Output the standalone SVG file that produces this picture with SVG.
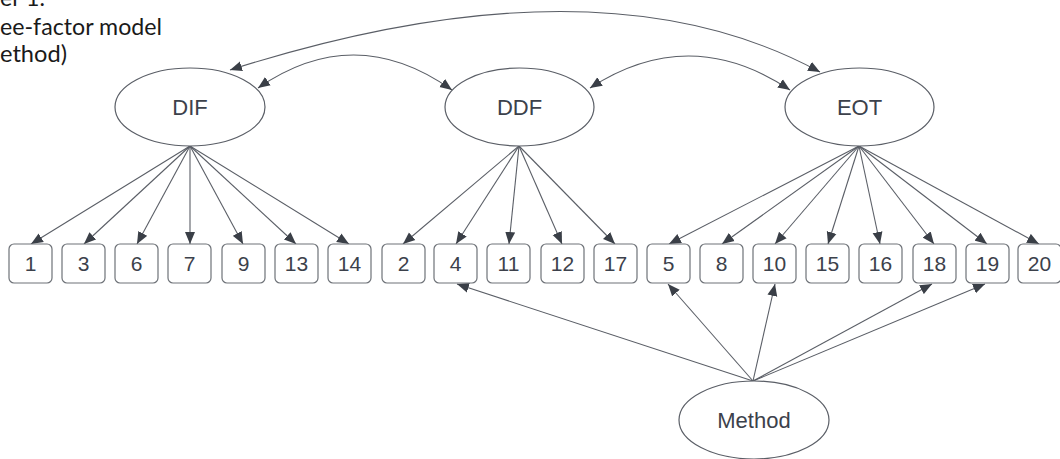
<svg xmlns="http://www.w3.org/2000/svg" width="1060" height="459" viewBox="0 0 1060 459">
<style>
.bg{fill:#ffffff}
.title{font-family:Lato,"Open Sans","Liberation Sans",sans-serif;font-size:24px;fill:#1a1a1a}
.ell{fill:#ffffff;stroke:#5a5e66;stroke-width:1.2}
.box{fill:#ffffff;stroke:#6e7278;stroke-width:1.2}
.lbl{font-family:"Liberation Sans",Arial,sans-serif;font-size:22px;fill:#3c414b;text-anchor:middle}
.num{font-family:"Liberation Sans",Arial,sans-serif;font-size:21px;fill:#3c414b;text-anchor:middle}
.c{fill:none;stroke:#5a5e66;stroke-width:1.1}
</style>
<defs>
<marker id="ah" markerUnits="userSpaceOnUse" markerWidth="13" markerHeight="11" refX="12" refY="5" orient="auto-start-reverse" viewBox="0 0 13 10">
<path d="M0,0 L12,5 L0,10 z" fill="#3a3f47"/>
</marker>
</defs>
<rect class="bg" x="0" y="0" width="1060" height="459"/>
<g id="title">
<text class="title" x="0" y="6" textLength="45" lengthAdjust="spacingAndGlyphs">er 1.</text>
<text class="title" x="0" y="35" textLength="162" lengthAdjust="spacingAndGlyphs">ee-factor model</text>
<text class="title" x="0" y="62" textLength="67" lengthAdjust="spacingAndGlyphs">ethod)</text>
</g>
<g id="connectors">
<path class="c" d="M258,88 Q355,21 452,90" marker-start="url(#ah)" marker-end="url(#ah)"/>
<path class="c" d="M590,88 Q690,23 790,90" marker-start="url(#ah)" marker-end="url(#ah)"/>
<path class="c" d="M230,70 Q600,-48 820,72" marker-start="url(#ah)" marker-end="url(#ah)"/>
<g marker-end="url(#ah)">
<line class="c" x1="190" y1="146" x2="31" y2="244"/>
<line class="c" x1="190" y1="146" x2="84" y2="244"/>
<line class="c" x1="190" y1="146" x2="137" y2="244"/>
<line class="c" x1="190" y1="146" x2="190" y2="244"/>
<line class="c" x1="190" y1="146" x2="243" y2="244"/>
<line class="c" x1="190" y1="146" x2="296" y2="244"/>
<line class="c" x1="190" y1="146" x2="349" y2="244"/>
<line class="c" x1="519" y1="146" x2="403" y2="244"/>
<line class="c" x1="519" y1="146" x2="456" y2="244"/>
<line class="c" x1="519" y1="146" x2="509" y2="244"/>
<line class="c" x1="519" y1="146" x2="562" y2="244"/>
<line class="c" x1="519" y1="146" x2="615" y2="244"/>
<line class="c" x1="859" y1="146" x2="669" y2="244"/>
<line class="c" x1="859" y1="146" x2="722" y2="244"/>
<line class="c" x1="859" y1="146" x2="775" y2="244"/>
<line class="c" x1="859" y1="146" x2="828" y2="244"/>
<line class="c" x1="859" y1="146" x2="880" y2="244"/>
<line class="c" x1="859" y1="146" x2="934" y2="244"/>
<line class="c" x1="859" y1="146" x2="987" y2="244"/>
<line class="c" x1="859" y1="146" x2="1039" y2="244"/>
<line class="c" x1="753" y1="381" x2="457" y2="284"/>
<line class="c" x1="753" y1="381" x2="668" y2="284"/>
<line class="c" x1="753" y1="381" x2="775" y2="284"/>
<line class="c" x1="753" y1="381" x2="932" y2="284"/>
<line class="c" x1="753" y1="381" x2="985" y2="284"/>
</g>
</g>
<g id="DIF"><ellipse class="ell" cx="190" cy="107" rx="75" ry="39"/><text class="lbl" x="190" y="115">DIF</text></g>
<g id="DDF"><ellipse class="ell" cx="519.5" cy="107" rx="74.5" ry="39"/><text class="lbl" x="519.5" y="115">DDF</text></g>
<g id="EOT"><ellipse class="ell" cx="859.5" cy="107" rx="74.5" ry="39"/><text class="lbl" x="859.5" y="115">EOT</text></g>
<g id="Method"><ellipse class="ell" cx="754" cy="420" rx="75" ry="39"/><text class="lbl" x="754" y="428">Method</text></g>
<g id="i1"><rect class="box" x="9" y="244" width="43" height="39" rx="5"/><text class="num" x="30.5" y="271">1</text></g>
<g id="i3"><rect class="box" x="62" y="244" width="43" height="39" rx="5"/><text class="num" x="83.5" y="271">3</text></g>
<g id="i6"><rect class="box" x="115" y="244" width="43" height="39" rx="5"/><text class="num" x="136.5" y="271">6</text></g>
<g id="i7"><rect class="box" x="168" y="244" width="43" height="39" rx="5"/><text class="num" x="189.5" y="271">7</text></g>
<g id="i9"><rect class="box" x="222" y="244" width="43" height="39" rx="5"/><text class="num" x="243.5" y="271">9</text></g>
<g id="i13"><rect class="box" x="275" y="244" width="43" height="39" rx="5"/><text class="num" x="296.5" y="271">13</text></g>
<g id="i14"><rect class="box" x="328" y="244" width="43" height="39" rx="5"/><text class="num" x="349.5" y="271">14</text></g>
<g id="i2"><rect class="box" x="382" y="244" width="43" height="39" rx="5"/><text class="num" x="403.5" y="271">2</text></g>
<g id="i4"><rect class="box" x="434" y="244" width="43" height="39" rx="5"/><text class="num" x="455.5" y="271">4</text></g>
<g id="i11"><rect class="box" x="487" y="244" width="43" height="39" rx="5"/><text class="num" x="508.5" y="271">11</text></g>
<g id="i12"><rect class="box" x="541" y="244" width="43" height="39" rx="5"/><text class="num" x="562.5" y="271">12</text></g>
<g id="i17"><rect class="box" x="594" y="244" width="43" height="39" rx="5"/><text class="num" x="615.5" y="271">17</text></g>
<g id="i5"><rect class="box" x="647" y="244" width="43" height="39" rx="5"/><text class="num" x="668.5" y="271">5</text></g>
<g id="i8"><rect class="box" x="700" y="244" width="43" height="39" rx="5"/><text class="num" x="721.5" y="271">8</text></g>
<g id="i10"><rect class="box" x="753" y="244" width="43" height="39" rx="5"/><text class="num" x="774.5" y="271">10</text></g>
<g id="i15"><rect class="box" x="806" y="244" width="43" height="39" rx="5"/><text class="num" x="827.5" y="271">15</text></g>
<g id="i16"><rect class="box" x="859" y="244" width="43" height="39" rx="5"/><text class="num" x="880.5" y="271">16</text></g>
<g id="i18"><rect class="box" x="913" y="244" width="43" height="39" rx="5"/><text class="num" x="934.5" y="271">18</text></g>
<g id="i19"><rect class="box" x="966" y="244" width="43" height="39" rx="5"/><text class="num" x="987.5" y="271">19</text></g>
<g id="i20"><rect class="box" x="1018" y="244" width="43" height="39" rx="5"/><text class="num" x="1039.5" y="271">20</text></g>
</svg>
